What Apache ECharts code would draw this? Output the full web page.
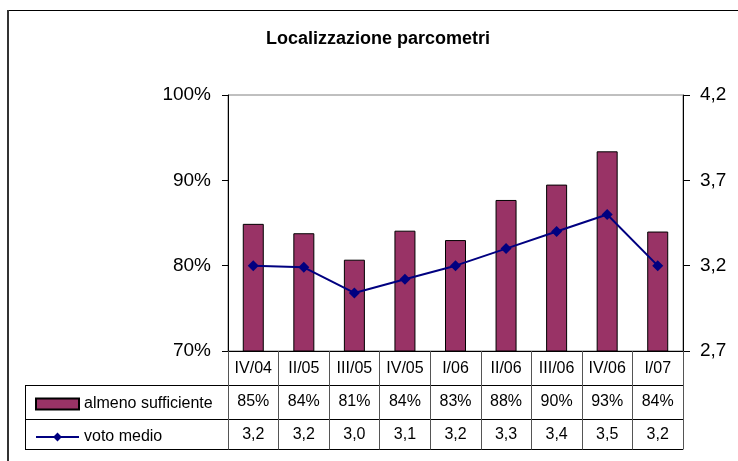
<!DOCTYPE html>
<html>
<head>
<meta charset="utf-8">
<script src="https://cdn.jsdelivr.net/npm/echarts@6/dist/echarts.min.js"></script>
<style>
  html, body { margin: 0; padding: 0; background: #fff; }
  #main { width: 738px; height: 461px; }
</style>
</head>
<body>
<div id="main"></div>
<script>
// dati
var trimestri = ['IV/04', 'II/05', 'III/05', 'IV/05', 'I/06', 'II/06', 'III/06', 'IV/06', 'I/07'];
var almenoSufficiente = [84.9, 83.8, 80.7, 84.1, 83.0, 87.7, 89.5, 93.4, 84.0];
var votoMedio = [3.2, 3.19, 3.04, 3.12, 3.2, 3.3, 3.4, 3.5, 3.2];

var font = 'Liberation Sans, Arial, sans-serif';

function virgola(v, dec) {
    return v.toFixed(dec).replace('.', ',');
}

var myChart = echarts.init(document.getElementById('main'));

myChart.setOption({
    backgroundColor: '#fff',
    animation: false,
    textStyle: { fontFamily: font, color: '#000' },
    title: {
        text: 'Localizzazione parcometri',
        left: 261,
        top: 25,
        textStyle: { fontFamily: font, fontSize: 18, fontWeight: 'bold', color: '#000' }
    },
    grid: {
        left: 228,
        right: 55,
        top: 95,
        bottom: 110,
        show: true,
        borderColor: '#808080',
        borderWidth: 1,
        containLabel: false
    },
    legend: [{
        data: [{ name: 'almeno sufficiente', icon: 'rect' }],
        left: 30,
        top: 391,
        itemWidth: 43,
        itemHeight: 11,
        textStyle: { fontFamily: font, fontSize: 16, color: '#000' }
    }, {
        data: ['voto medio'],
        left: 30,
        top: 424,
        itemWidth: 43,
        itemHeight: 11,
        textStyle: { fontFamily: font, fontSize: 16, color: '#000' }
    }],
    xAxis: [{
        type: 'category',
        data: trimestri,
        axisLine: { lineStyle: { color: '#000', width: 1 } },
        axisTick: { show: true, length: 98.5, interval: 0, lineStyle: { color: '#555' } },
        axisLabel: { interval: 0, margin: 10, fontSize: 16, color: '#000', fontFamily: font }
    }, {
        type: 'category',
        data: trimestri,
        position: 'bottom',
        offset: 34,
        axisLine: { show: false },
        axisTick: { show: false },
        axisLabel: {
            interval: 0, margin: 9, fontSize: 16, color: '#000', fontFamily: font,
            formatter: function (v, i) { return Math.round(almenoSufficiente[i]) + '%'; }
        }
    }, {
        type: 'category',
        data: trimestri,
        position: 'bottom',
        offset: 68,
        axisLine: { show: false },
        axisTick: { show: false },
        axisLabel: {
            interval: 0, margin: 8, fontSize: 16, color: '#000', fontFamily: font,
            formatter: function (v, i) { return virgola(votoMedio[i], 1); }
        }
    }],
    yAxis: [{
        type: 'value',
        min: 70,
        max: 100,
        interval: 10,
        axisLine: { show: true, lineStyle: { color: '#000' } },
        axisTick: { show: true, length: 6, lineStyle: { color: '#000' } },
        splitLine: { show: false },
        axisLabel: { margin: 17, fontSize: 19, color: '#000', fontFamily: font, formatter: '{value}%' }
    }, {
        type: 'value',
        position: 'right',
        min: 2.7,
        max: 4.2,
        interval: 0.5,
        axisLine: { show: true, lineStyle: { color: '#000' } },
        axisTick: { show: true, length: 7, lineStyle: { color: '#000' } },
        splitLine: { show: false },
        axisLabel: {
            margin: 17, fontSize: 19, color: '#000', fontFamily: font,
            formatter: function (v) { return virgola(v, 1); }
        }
    }],
    series: [{
        name: 'almeno sufficiente',
        type: 'bar',
        data: almenoSufficiente,
        barWidth: 21,
        itemStyle: { color: '#993366', borderColor: '#000', borderWidth: 1 }
    }, {
        name: 'voto medio',
        type: 'line',
        yAxisIndex: 1,
        data: votoMedio,
        symbol: 'diamond',
        symbolSize: 11,
        lineStyle: { color: '#000080', width: 2 },
        itemStyle: { color: '#000080' }
    }],
    graphic: [
        // cornice esterna (solo lato sinistro e superiore visibili)
        { type: 'line', shape: { x1: 8, y1: 10.5, x2: 738, y2: 10.5 }, style: { stroke: '#000', lineWidth: 1 } },
        { type: 'line', shape: { x1: 8, y1: 10, x2: 8, y2: 461 }, style: { stroke: '#333', lineWidth: 2 } },
        // tabella dati
        { type: 'line', shape: { x1: 25, y1: 385.5, x2: 683, y2: 385.5 }, style: { stroke: '#000', lineWidth: 1 } },
        { type: 'line', shape: { x1: 25, y1: 419.5, x2: 683, y2: 419.5 }, style: { stroke: '#000', lineWidth: 1 } },
        { type: 'line', shape: { x1: 25, y1: 449.5, x2: 683, y2: 449.5 }, style: { stroke: '#000', lineWidth: 1 } },
        { type: 'line', shape: { x1: 25.5, y1: 385.5, x2: 25.5, y2: 449.5 }, style: { stroke: '#000', lineWidth: 1 } }
    ]
});
</script>
</body>
</html>
